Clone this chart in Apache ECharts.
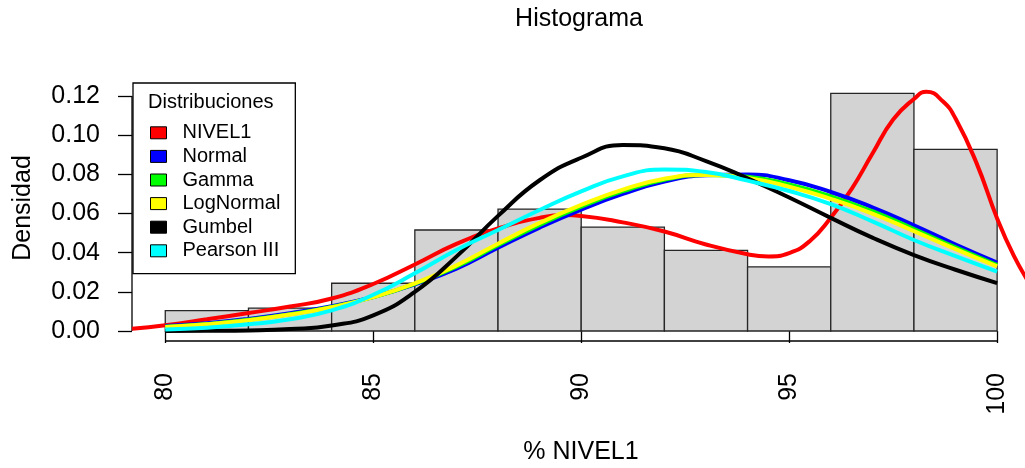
<!DOCTYPE html>
<html>
<head>
<meta charset="utf-8">
<title>Histograma</title>
<script src="https://cdn.jsdelivr.net/npm/echarts@6/dist/echarts.min.js"></script>
<style>
  html, body { margin: 0; padding: 0; background: #fff; }
  #chart { width: 1025px; height: 468px; }
</style>
</head>
<body>
<div id="chart"></div>
<script>
// Histogram bins (% NIVEL1, width 2) and their densities
const binStarts = [80, 82, 84, 86, 88, 90, 92, 94, 96, 98];
const binEnds   = [82, 84, 86, 88, 90, 92, 94, 96, 98, 100];
const binDensity = [0.0104, 0.0117, 0.0244, 0.0516, 0.0623, 0.0531, 0.0412, 0.0328, 0.1214, 0.0928];

// Empirical density of NIVEL1
const kdeX = [79.2, 80, 81, 82, 83, 84, 85, 86, 87, 88, 89, 89.6, 90, 91, 92, 93, 94, 94.5, 95, 95.5,
              96, 96.5, 97, 97.5, 98, 98.3, 98.7, 99, 99.5, 100, 100.4, 100.8];
const kdeY = [0.0012, 0.0030, 0.0060, 0.0092, 0.0125, 0.0166, 0.0240, 0.0340, 0.0445, 0.0524, 0.0578, 0.0592,
              0.0588, 0.0555, 0.0508, 0.0442, 0.0392, 0.0381, 0.0398, 0.0460, 0.0578, 0.0725, 0.0905, 0.1080,
              0.1185, 0.1222, 0.1172, 0.1085, 0.0860, 0.0575, 0.0385, 0.0235];

// Fitted distributions evaluated on 80..100
const fitX = [80, 81, 82, 83, 84, 85, 86, 87, 88, 89, 90, 91, 92, 93, 94, 95, 96, 97, 98, 99, 100];
const normalY = [0.0026, 0.0040, 0.0062, 0.0091, 0.0127, 0.0174, 0.0238, 0.0318, 0.0425, 0.0528, 0.0620,
                 0.0700, 0.0763, 0.0796, 0.0800, 0.0770, 0.0710, 0.0632, 0.0540, 0.0442, 0.0350];
const gammaY = [0.0022, 0.0036, 0.0057, 0.0086, 0.0123, 0.0173, 0.0241, 0.0329, 0.0438, 0.0542, 0.0635,
                0.0714, 0.0773, 0.0797, 0.0788, 0.0748, 0.0688, 0.0612, 0.0521, 0.0427, 0.0337];
const lognormalY = [0.0020, 0.0034, 0.0055, 0.0084, 0.0121, 0.0173, 0.0243, 0.0335, 0.0446, 0.0552, 0.0644,
                    0.0722, 0.0778, 0.0797, 0.0782, 0.0737, 0.0675, 0.0600, 0.0510, 0.0418, 0.0330];
const gumbelY = [0.0000, 0.0001, 0.0003, 0.0010, 0.0028, 0.0080, 0.0200, 0.0380, 0.0588, 0.0770, 0.0885,
                 0.0950, 0.0933, 0.0868, 0.0780, 0.0682, 0.0578, 0.0477, 0.0388, 0.0313, 0.0245];
const pearsonY = [0.0008, 0.0017, 0.0034, 0.0060, 0.0105, 0.0185, 0.0295, 0.0414, 0.0516, 0.0618, 0.0713,
                  0.0790, 0.0825, 0.0812, 0.0768, 0.0715, 0.0648, 0.0560, 0.0465, 0.0382, 0.0303];

// Axis ticks and labels
const xTicks = [80, 85, 90, 95, 100];
const yTicks = [0, 0.02, 0.04, 0.06, 0.08, 0.10, 0.12];
const seriesNames = ['NIVEL1', 'Normal', 'Gamma', 'LogNormal', 'Gumbel', 'Pearson III'];
const seriesColors = ['#ff0000', '#0000ff', '#00ff00', '#ffff00', '#000000', '#00ffff'];

// Plot limits: 4% padding on the left and bottom; the right side runs off the canvas edge
const X_MIN = 79.2, X_MAX = 100.67;
const Y_MIN = -0.0051, Y_MAX = 0.1328;

const FONT = '"Liberation Sans", Arial, sans-serif';

const zip = (xs, ys) => xs.map((x, i) => [x, ys[i]]);
const bins = binStarts.map((s, i) => [s, binEnds[i], binDensity[i]]);
const curves = [kdeY, normalY, gammaY, lognormalY, gumbelY, pearsonY];
const curveX = [kdeX, fitX, fitX, fitX, fitX, fitX];

const chart = echarts.init(document.getElementById('chart'), null, { renderer: 'canvas' });

const curveSeries = seriesNames.map((name, i) => ({
  name: name,
  type: 'line',
  data: zip(curveX[i], curves[i]),
  smooth: true,
  symbol: 'none',
  color: seriesColors[i],
  lineStyle: { color: seriesColors[i], width: 4 },
  itemStyle: { color: seriesColors[i] },
  silent: true,
  z: 3
}));

chart.setOption({
  animation: false,
  backgroundColor: '#ffffff',
  grid: { left: 132, right: 0, top: 71, bottom: 127, containLabel: false },
  xAxis: {
    type: 'value', min: X_MIN, max: X_MAX,
    axisLine: { show: false },
    splitLine: { show: false },
    axisTick: { show: true, customValues: xTicks, length: 12, lineStyle: { color: '#000', width: 1.3 } },
    axisLabel: {
      customValues: xTicks, rotate: 90, margin: 32,
      fontSize: 25, fontFamily: FONT, color: '#000',
      formatter: v => String(v)
    }
  },
  yAxis: {
    type: 'value', min: Y_MIN, max: Y_MAX,
    axisLine: { show: false },
    splitLine: { show: false },
    axisTick: { show: true, customValues: yTicks, length: 14, lineStyle: { color: '#000', width: 1.3 } },
    axisLabel: {
      customValues: yTicks, margin: 32,
      fontSize: 25, fontFamily: FONT, color: '#000',
      formatter: v => v.toFixed(2)
    }
  },
  legend: {
    orient: 'vertical', left: 133, top: 83,
    data: seriesNames,
    icon: 'rect', itemWidth: 16, itemHeight: 12, itemGap: 0,
    padding: [38, 15, 11, 17],
    backgroundColor: '#ffffff', borderColor: '#000', borderWidth: 1.3,
    selectedMode: false,
    itemStyle: { borderColor: '#000', borderWidth: 1 },
    textStyle: { fontSize: 20, lineHeight: 23.6, color: '#000', fontFamily: FONT, padding: [0, 0, 0, 11] }
  },
  graphic: [
    { type: 'text', x: 579, y: 19, z: 100,
      style: { text: 'Histograma', fontSize: 25, fontFamily: FONT, fill: '#000', textAlign: 'center', textVerticalAlign: 'middle' } },
    { type: 'text', x: 581, y: 452, z: 100,
      style: { text: '% NIVEL1', fontSize: 25, fontFamily: FONT, fill: '#000', textAlign: 'center', textVerticalAlign: 'middle' } },
    { type: 'text', x: 23, y: 208, rotation: Math.PI / 2, z: 100,
      style: { text: 'Densidad', fontSize: 25, fontFamily: FONT, fill: '#000', textAlign: 'center', textVerticalAlign: 'middle' } },
    { type: 'text', x: 148, y: 102, z: 100,
      style: { text: 'Distribuciones', fontSize: 20, fontFamily: FONT, fill: '#000', textAlign: 'left', textVerticalAlign: 'middle' } }
  ],
  series: [
    {
      type: 'custom',
      data: bins,
      silent: true,
      z: 1,
      renderItem: function (params, api) {
        const base = api.coord([api.value(0), 0]);
        const top = api.coord([api.value(1), api.value(2)]);
        return {
          type: 'rect',
          shape: { x: base[0], y: top[1], width: top[0] - base[0], height: base[1] - top[1] },
          style: { fill: '#d3d3d3', stroke: '#262626', lineWidth: 1.3 }
        };
      }
    },
    // x axis line spanning the first to the last tick
    {
      type: 'line', silent: true, symbol: 'none', clip: false, z: 2,
      data: [[xTicks[0], Y_MIN], [xTicks[xTicks.length - 1], Y_MIN]],
      lineStyle: { color: '#000', width: 1.3 }
    },
    // y axis line spanning the first to the last tick
    {
      type: 'line', silent: true, symbol: 'none', clip: false, z: 2,
      data: [[X_MIN, yTicks[0]], [X_MIN, yTicks[yTicks.length - 1]]],
      lineStyle: { color: '#000', width: 1.3 }
    }
  ].concat(curveSeries)
});
</script>
</body>
</html>
